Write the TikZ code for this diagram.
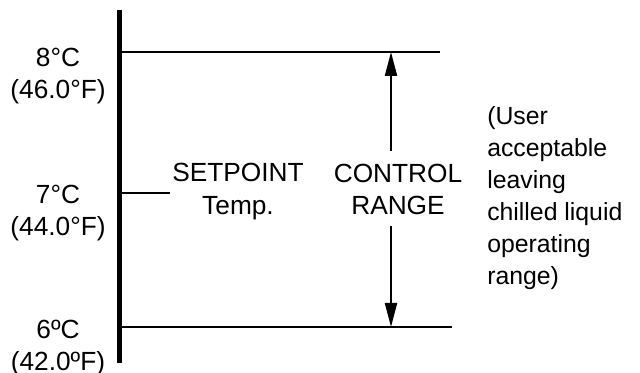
\documentclass[tikz,border=0pt]{standalone}
\usepackage{fontspec}
\setmainfont{Liberation Sans}
\usepackage{tikz}
\usetikzlibrary{arrows.meta,positioning}

\begin{document}
\begin{tikzpicture}[x=0.75pt, y=-0.75pt, >={Triangle[length=18pt,width=9pt]},
    lbl/.style={align=center, inner sep=0pt, font=\fontsize{19.7pt}{24.5pt}\selectfont},
    note/.style={align=left, inner sep=0pt, font=\fontsize{18.6pt}{24pt}\selectfont},
    level/.style={line width=1.5pt}]
        \useasboundingbox (0,0) rectangle (640,373);

        % temperature axis
        \coordinate (top) at (119.5,10);
        \coordinate (bot) at (119.5,363);
        \draw[line width=3.75pt] (top) -- (bot);

        \coordinate (hi) at (119.5,52);
        \coordinate (hiend) at (440,52);
        \coordinate (sp) at (119.5,193);
        \coordinate (spend) at (170,193);
        \coordinate (lo) at (119.5,327);
        \coordinate (loend) at (452,327);
        \draw[level] (hi) -- (hiend);
        \draw[level] (sp) -- (spend);
        \draw[level] (lo) -- (loend);

        \node (t8) [lbl] at (58,76) {8°C\\(46.0°F)};
        \node (t7) [lbl] at (58,213) {7°C\\(44.0°F)};
        \node (t6) [lbl] at (58,348) {6ºC\\(42.0ºF)};

        \node (setp) [lbl] at (238,191.5) {SETPOINT\\Temp.};
        \node (ctrl) [lbl] at (398,189.5) {CONTROL\\RANGE};
        \node (user) [note, anchor=west] at (487,198) {(User\\acceptable\\leaving\\chilled liquid\\operating\\range)};

        % control range arrows
        \coordinate (arrtop) at (391,52);
        \coordinate (arrbot) at (391,327);
        \draw[level, ->] (391,151) -- (arrtop);
        \draw[level, ->] (391,226) -- (arrbot);
      \end{tikzpicture}
\end{document}
